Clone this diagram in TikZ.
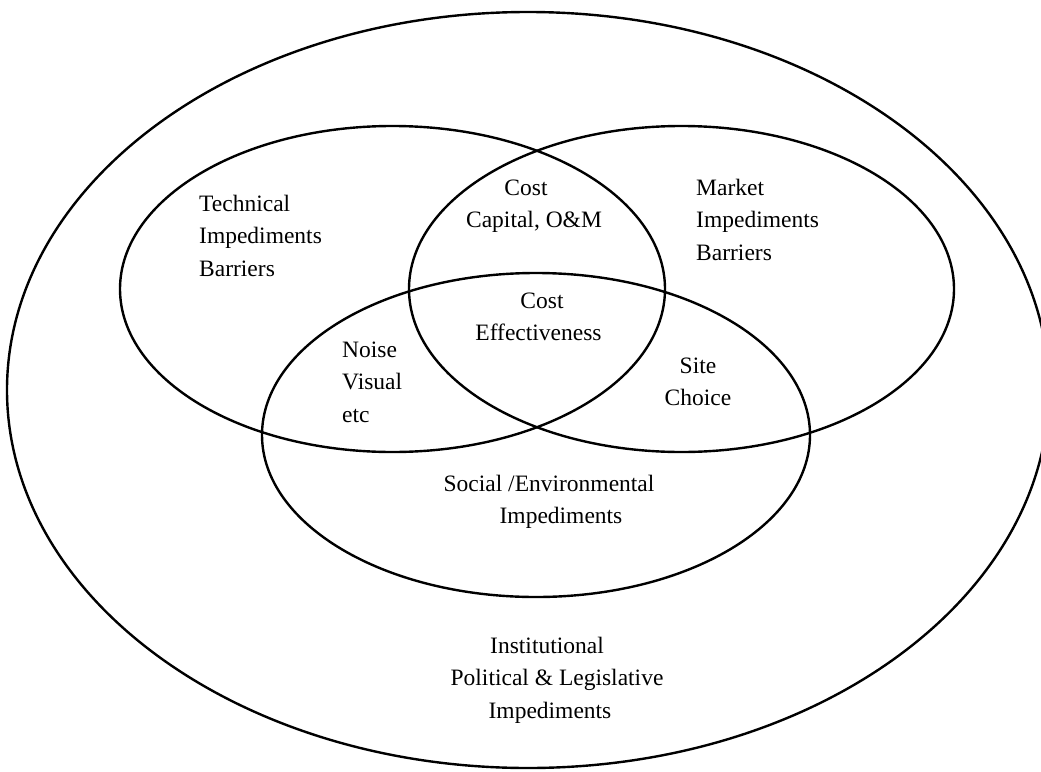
\documentclass[tikz,border=0pt]{standalone}
\usepackage{fontspec}
\setmainfont{Liberation Serif}
\begin{document}
\begin{tikzpicture}[x=1pt,y=-1pt,
  ring/.style={line width=2.4pt,draw=black},
  lbl/.style={inner sep=0pt,font=\fontsize{23.5}{32.5}\selectfont}]
\useasboundingbox (0,0) rectangle (1041,771);
\clip (0,0) rectangle (1041,771);
\fill[white] (0,0) rectangle (1041,771);

% the four impediment domains
\draw[ring] (528,390) ellipse [x radius=521, y radius=378];
\draw[ring] (392.5,289) ellipse [x radius=272.5, y radius=163];
\draw[ring] (681.5,289) ellipse [x radius=272.5, y radius=163];
\draw[ring] (536,435) ellipse [x radius=274, y radius=162];

% labels (anchored at the baseline of their last line)
\node[lbl,anchor=base west,align=left] (tech) at (199,276)
  {Technical\\Impediments\\Barriers};
\node[lbl,anchor=base west,align=left] (market) at (696,260)
  {Market\\Impediments\\Barriers};
\node[lbl,anchor=base,align=center] (cost) at (534,227.5)
  {Cost\hspace*{16pt}\\Capital, O\&M};
\node[lbl,anchor=base,align=center] (effect) at (538.5,340.5)
  {\hspace*{7pt}Cost\\Effectiveness};
\node[lbl,anchor=base west,align=left] (noise) at (342,422)
  {Noise\\Visual\\etc};
\node[lbl,anchor=base,align=center] (site) at (698,405.5)
  {Site\\Choice};
\node[lbl,anchor=base,align=center] (social) at (549,523.5)
  {Social /Environmental\\\hspace*{24pt}Impediments};
\node[lbl,anchor=base,align=center] (inst) at (557,718)
  {Institutional\hspace*{20pt}\\Political \& Legislative\\Impediments\hspace*{14pt}};
\end{tikzpicture}
\end{document}
